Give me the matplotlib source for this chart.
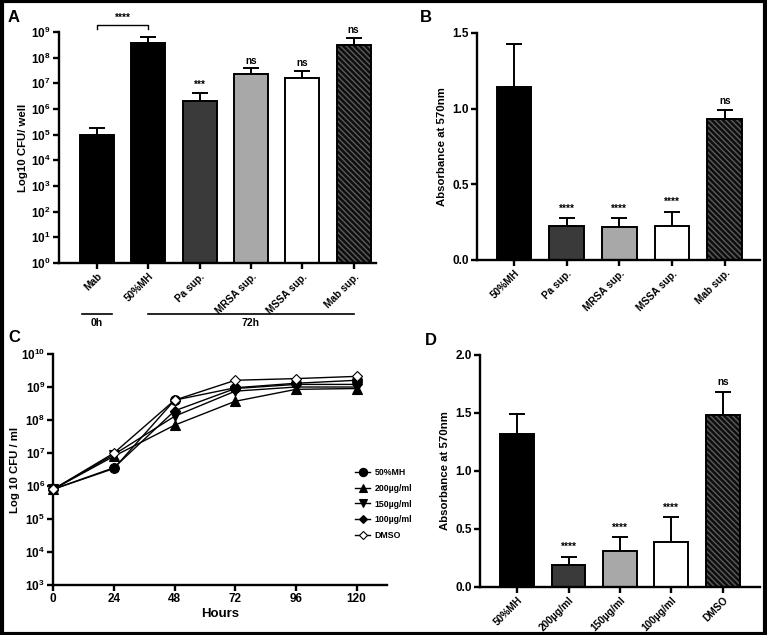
import numpy as np
import matplotlib
matplotlib.use("Agg")
import matplotlib.pyplot as plt
from matplotlib.ticker import FixedLocator, NullLocator, FuncFormatter
from matplotlib.patches import Rectangle

plt.rcParams['font.family'] = ['Liberation Sans', 'DejaVu Sans']
plt.rcParams['font.weight'] = 'bold'
plt.rcParams['mathtext.fontset'] = 'custom'
plt.rcParams['mathtext.rm'] = 'Liberation Sans:bold'
plt.rcParams['mathtext.it'] = 'Liberation Sans:bold'
plt.rcParams['mathtext.bf'] = 'Liberation Sans:bold'
plt.rcParams['mathtext.default'] = 'rm'
plt.rcParams['hatch.linewidth'] = 1.0

# ---- data ----
a_labels = ["Mab", "50%MH", "Pa sup.", "MRSA sup.", "MSSA sup.", "Mab sup."]
a_means = [1.0e5, 3.8e8, 2.1e6, 2.4e7, 1.6e7, 3.0e8]
a_upper = [1.8e5, 6.5e8, 4.2e6, 3.8e7, 3.0e7, 5.7e8]
a_sig = ["", "", "***", "ns", "ns", "ns"]

b_labels = ["50%MH", "Pa sup.", "MRSA sup.", "MSSA sup.", "Mab sup."]
b_means = [1.14, 0.225, 0.22, 0.225, 0.93]
b_err = [0.29, 0.05, 0.055, 0.095, 0.06]
b_sig = ["", "****", "****", "****", "ns"]

hours = [0, 24, 48, 72, 96, 120]
c_series = ["50%MH", "200µg/ml", "150µg/ml", "100µg/ml", "DMSO"]
c_mh = [8e5, 3.4e6, 4.0e8, 9.5e8, 1.3e9, 1.6e9]
c_200 = [8e5, 8.0e6, 7.0e7, 3.7e8, 8.5e8, 9.0e8]
c_150 = [8e5, 9.0e6, 1.3e8, 7.5e8, 1.0e9, 1.0e9]
c_100 = [8e5, 3.6e6, 1.9e8, 9.0e8, 1.2e9, 1.2e9]
c_dmso = [8e5, 1.0e7, 4.0e8, 1.6e9, 1.8e9, 2.1e9]

d_labels = ["50%MH", "200µg/ml", "150µg/ml", "100µg/ml", "DMSO"]
d_means = [1.32, 0.19, 0.31, 0.39, 1.48]
d_err = [0.17, 0.07, 0.12, 0.21, 0.20]
d_sig = ["", "****", "****", "****", "ns"]

fig = plt.figure(figsize=(7.67, 6.35), dpi=100)

TICK_FS = 8.5
XLAB_FS = 7.3
YLAB_FS = 8.2
SIG_FS = 7.2


def style_axis(ax):
    for s in ['top', 'right']:
        ax.spines[s].set_visible(False)
    for s in ['left', 'bottom']:
        ax.spines[s].set_linewidth(1.7)
    ax.tick_params(width=1.7, length=4, labelsize=TICK_FS, pad=2)


def bar_panel(ax, labels, means, err_up, fills, hatch_idx):
    x = np.arange(len(labels))
    lower = np.zeros(len(means))
    for i in range(len(labels)):
        if i == hatch_idx:
            ax.bar(x[i], means[i], width=0.66, color='#0e0e0e', edgecolor='#5c5c5c',
                   hatch='\\\\\\\\\\\\', linewidth=0, zorder=2)
            ax.bar(x[i], means[i], width=0.66, fill=False, edgecolor='black',
                   linewidth=1.4, zorder=3)
        else:
            ax.bar(x[i], means[i], width=0.66, color=fills[i], edgecolor='black',
                   linewidth=1.4, zorder=2)
    ax.errorbar(x, means, yerr=[lower, err_up], fmt='none', ecolor='black',
                elinewidth=1.4, capsize=6, capthick=1.4, zorder=1)
    ax.set_xticks(x)
    ax.set_xticklabels(labels, rotation=45, ha='right', rotation_mode='anchor',
                       fontsize=XLAB_FS)
    return x


fills6 = ['black', 'black', '#3a3a3a', '#a8a8a8', 'white', None]
fills5 = ['black', '#3a3a3a', '#a8a8a8', 'white', None]
log_fmt = FuncFormatter(lambda v, p: r'$10^{%d}$' % round(np.log10(v)))

# ---- panel A ----
axA = fig.add_axes([0.0769, 0.5858, 0.413, 0.3638])
style_axis(axA)
a_err = [u - m for u, m in zip(a_upper, a_means)]
xa = bar_panel(axA, a_labels, a_means, a_err, fills6, 5)
axA.set_yscale('log')
axA.set_ylim(1, 1e9)
axA.set_xlim(-0.74, 5.43)
axA.yaxis.set_major_locator(FixedLocator([10.0 ** k for k in range(10)]))
axA.yaxis.set_minor_locator(NullLocator())
axA.yaxis.set_major_formatter(log_fmt)
axA.set_ylabel("Log10 CFU/ well", fontsize=YLAB_FS, fontweight='bold', labelpad=2)
for i, s in enumerate(a_sig):
    if s:
        axA.text(xa[i], a_upper[i] * 1.3, s, ha='center', va='bottom', fontsize=SIG_FS,
                 fontweight='bold', clip_on=False)
# bracket Mab vs 50%MH
trA = axA.get_xaxis_transform()
by = 1.03
axA.plot([xa[0], xa[0], xa[1], xa[1]], [by - 0.018, by, by, by - 0.018], color='black',
         lw=1, transform=trA, clip_on=False)
axA.text((xa[0] + xa[1]) / 2, by + 0.008, "****", ha='center', va='bottom', fontsize=SIG_FS,
         fontweight='bold', transform=trA)
# time groups
axA.plot([xa[0] - 0.3, xa[0] + 0.3], [-0.222, -0.222], color='black', lw=1.2,
         transform=trA, clip_on=False)
axA.plot([xa[1], xa[5]], [-0.222, -0.222], color='black', lw=1.2,
         transform=trA, clip_on=False)
axA.text(xa[0], -0.237, "0h", ha='center', va='top', fontsize=7.5, fontweight='bold',
         transform=trA)
axA.text((xa[1] + xa[5]) / 2, -0.237, "72h", ha='center', va='top', fontsize=7.5,
         fontweight='bold', transform=trA)

# ---- panel B ----
axB = fig.add_axes([0.622, 0.5906, 0.369, 0.3575])
style_axis(axB)
xb = bar_panel(axB, b_labels, b_means, b_err, fills5, 4)
axB.set_ylim(0, 1.5)
axB.set_xlim(-0.70, 4.67)
axB.set_yticks([0, 0.5, 1.0, 1.5])
axB.set_yticklabels(["0.0", "0.5", "1.0", "1.5"])
axB.set_ylabel("Absorbance at 570nm", fontsize=YLAB_FS, fontweight='bold', labelpad=4)
for i, s in enumerate(b_sig):
    if s:
        axB.text(xb[i], b_means[i] + b_err[i] + 0.03, s, ha='center', va='bottom',
                 fontsize=SIG_FS, fontweight='bold')

# ---- panel C ----
axC = fig.add_axes([0.0695, 0.0787, 0.435, 0.3638])
style_axis(axC)
markers = ['o', '^', 'v', 'D', 'D']
c_data = [c_mh, c_200, c_150, c_100, c_dmso]
for name, vals, mk in zip(c_series, c_data, markers):
    face = 'white' if name == "DMSO" else 'black'
    ms = 5 if mk == 'D' else 7
    axC.plot(hours, vals, color='black', lw=1, marker=mk, ms=ms, mfc=face,
             mec='black', mew=0.8, label=name, clip_on=False, zorder=3)
axC.set_yscale('log')
axC.set_ylim(1e3, 1e10)
axC.set_xlim(0, 132)
axC.set_xticks(hours)
axC.yaxis.set_major_locator(FixedLocator([10.0 ** k for k in range(3, 11)]))
axC.yaxis.set_minor_locator(NullLocator())
axC.yaxis.set_major_formatter(log_fmt)
axC.set_xlabel("Hours", fontsize=9.5, fontweight='bold', labelpad=2)
axC.set_ylabel("Log 10 CFU / ml", fontsize=YLAB_FS, fontweight='bold', labelpad=1)
axC.legend(loc='upper left', bbox_to_anchor=(0.895, 0.52), frameon=False, fontsize=6.3,
           handlelength=1.7, handletextpad=0.5, labelspacing=0.75, borderaxespad=0,
           markerscale=0.85)

# ---- panel D ----
axD = fig.add_axes([0.6258, 0.0756, 0.365, 0.3654])
style_axis(axD)
xd = bar_panel(axD, d_labels, d_means, d_err, fills5, 4)
axD.set_ylim(0, 2.0)
axD.set_xlim(-0.72, 4.72)
axD.set_yticks([0, 0.5, 1.0, 1.5, 2.0])
axD.set_yticklabels(["0.0", "0.5", "1.0", "1.5", "2.0"])
axD.set_ylabel("Absorbance at 570nm", fontsize=YLAB_FS, fontweight='bold', labelpad=4)
for i, s in enumerate(d_sig):
    if s:
        axD.text(xd[i], d_means[i] + d_err[i] + 0.04, s, ha='center', va='bottom',
                 fontsize=SIG_FS, fontweight='bold')

# panel letters
for lab, px, py in [("A", 8, 17), ("B", 420, 17), ("C", 8, 337), ("D", 425, 340)]:
    fig.text(px / 767, 1 - py / 635, lab, fontsize=12, fontweight='bold',
             ha='left', va='center')

# outer frame
fig.patches.append(Rectangle((0.002, 0.002), 0.996, 0.996, transform=fig.transFigure,
                             fill=False, edgecolor='black', linewidth=3))

fig.savefig("out.png", dpi=100)
